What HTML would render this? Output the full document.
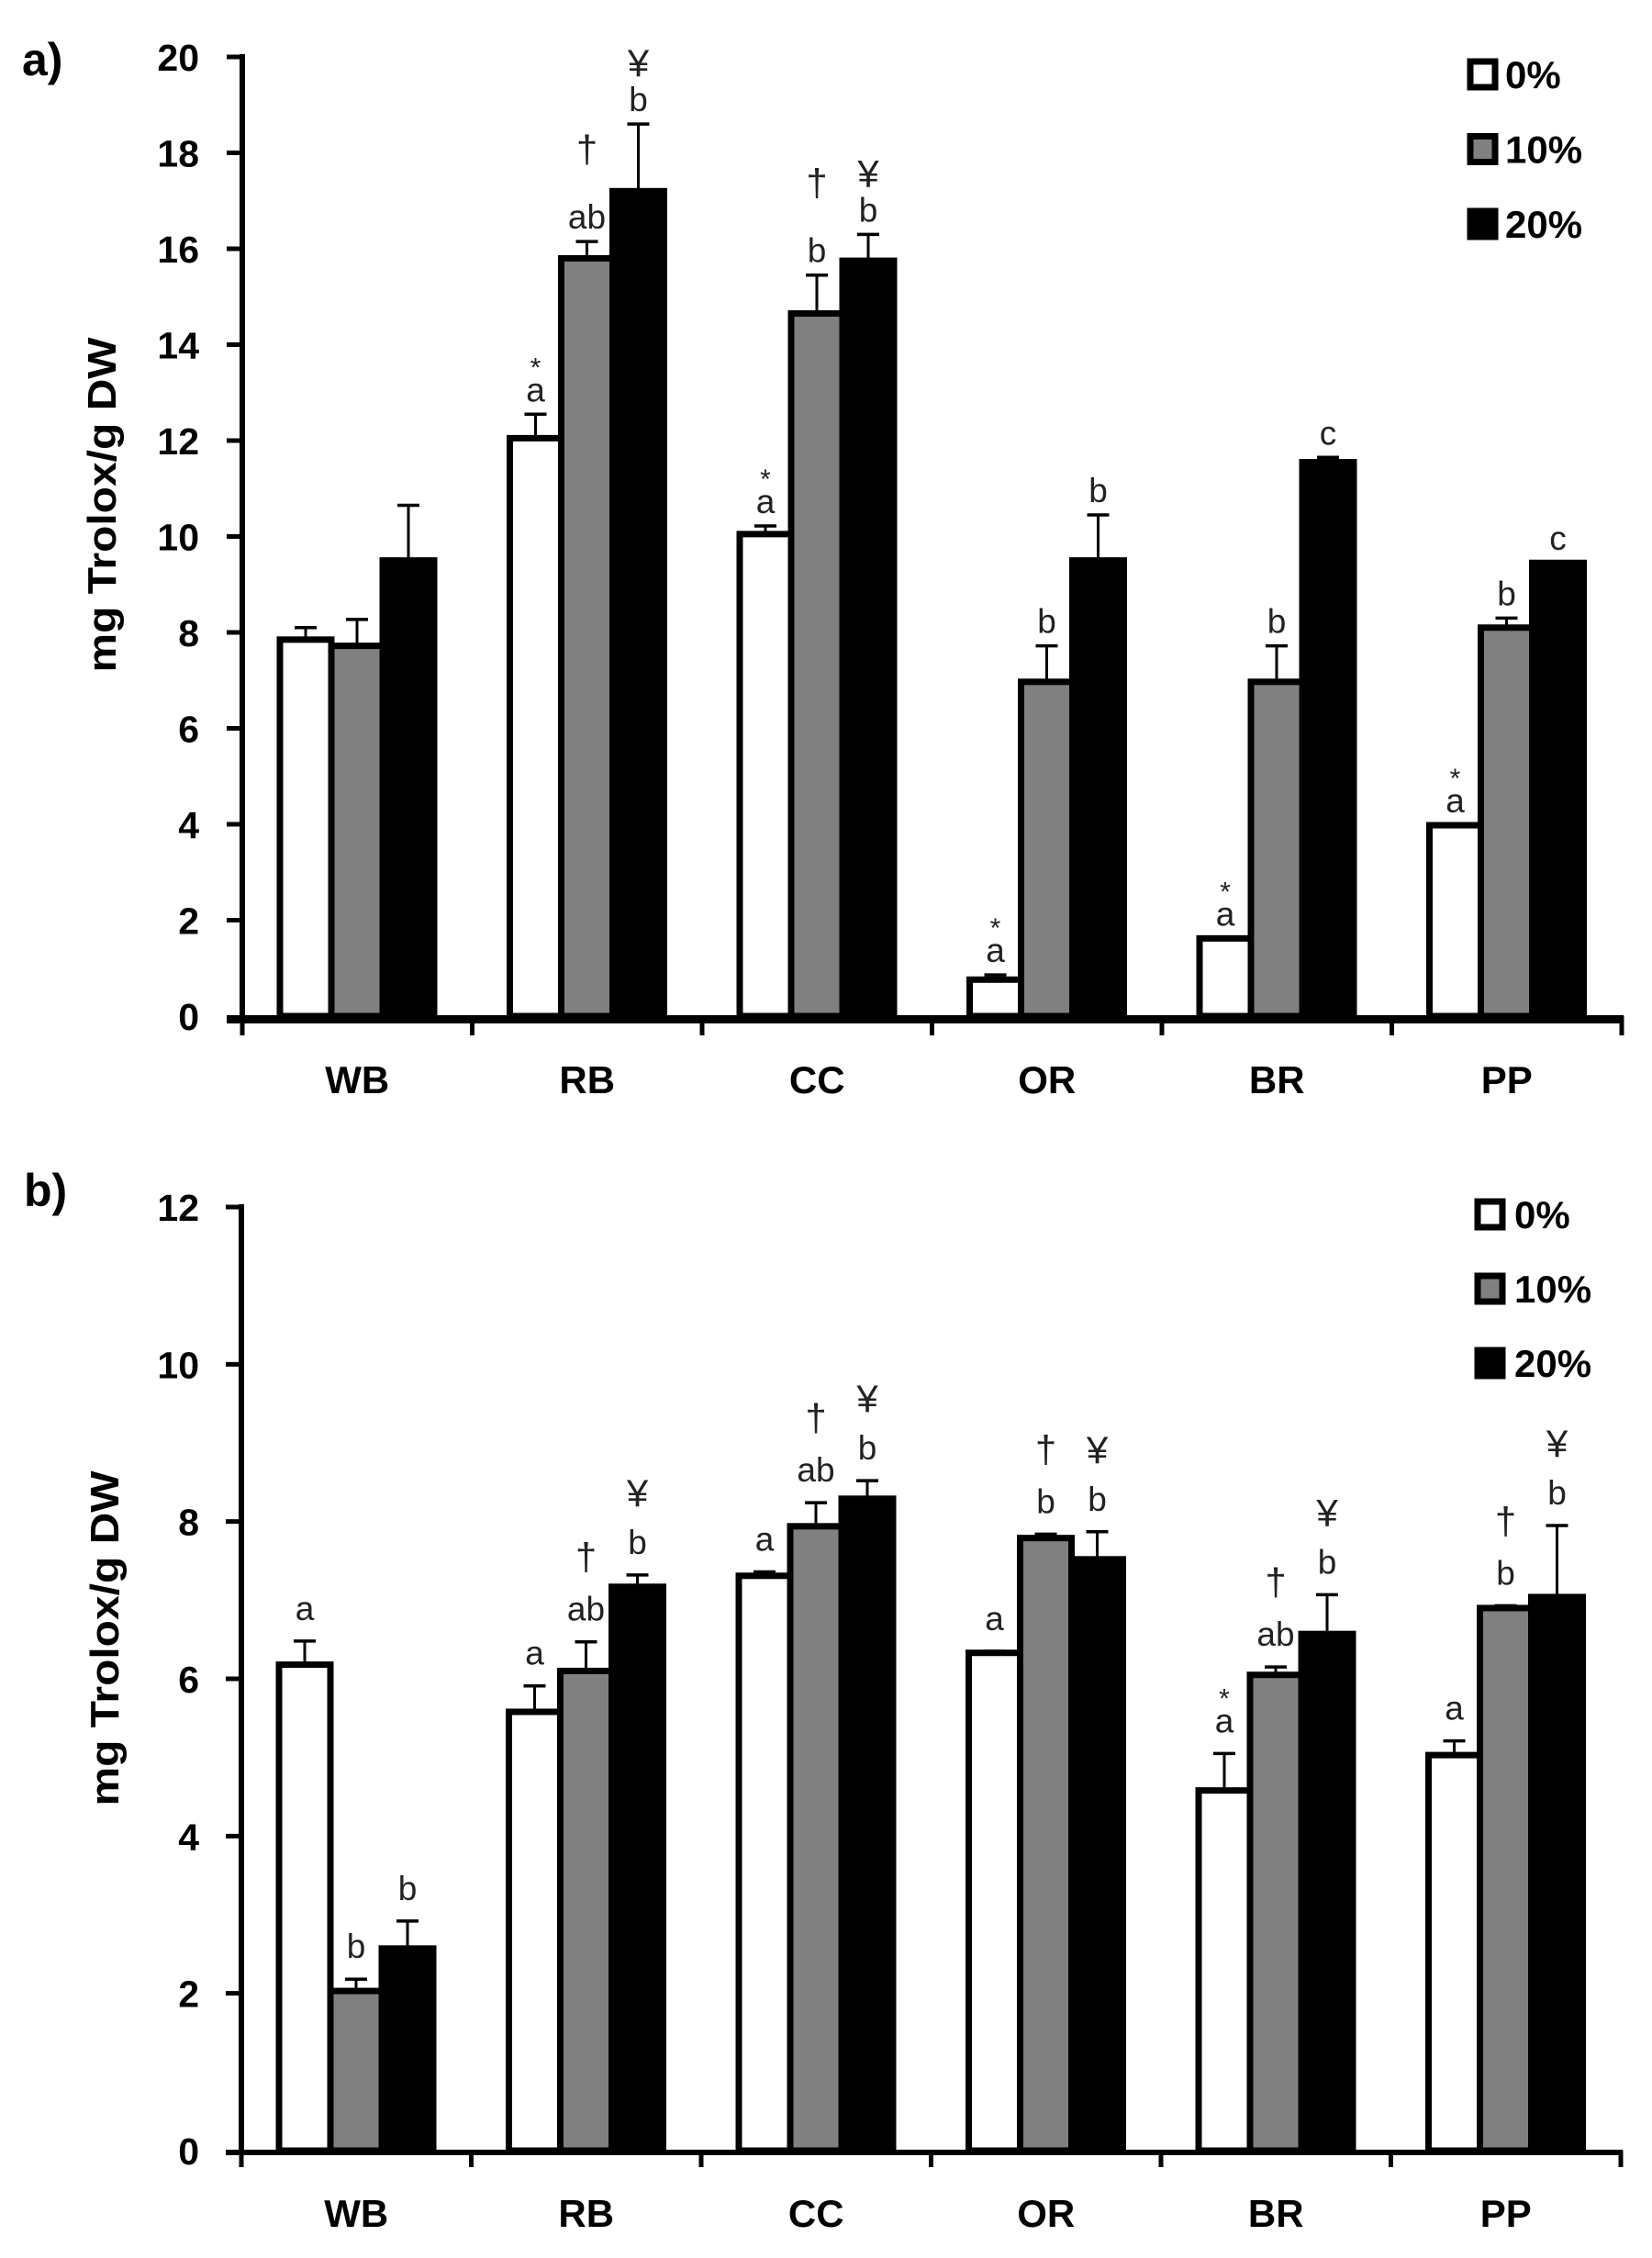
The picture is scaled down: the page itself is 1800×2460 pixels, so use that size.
<!DOCTYPE html>
<html lang="en">
<head>
<meta charset="utf-8">
<title>Trolox antioxidant capacity bar charts</title>
<style>
html,body{margin:0;padding:0;background:#fff;}
svg{display:block;}
text{fill:#000;}
.bold{font-family:"Liberation Sans",sans-serif;font-weight:bold;}
.note{font-family:"Liberation Sans",sans-serif;fill:#222;}
</style>
</head>
<body>
<svg id="figure" xmlns="http://www.w3.org/2000/svg" width="1800" height="2460" viewBox="0 0 1800 2460"></svg>
<script>
const categories = ['WB','RB','CC','OR','BR','PP'];
const seriesNames = ['0%','10%','20%'];
const seriesFills = ['#ffffff','#808080','#000000'];

const ticksA = [0,2,4,6,8,10,12,14,16,18,20];
const valuesA0 = [7.85,12.05,10.05,0.76,1.62,3.98];
const valuesA10 = [7.72,15.8,14.65,6.97,6.97,8.1];
const valuesA20 = [9.5,17.2,15.75,9.5,11.55,9.45];
const errorsA0 = [0.25,0.5,0.17,0.1,0,0];
const errorsA10 = [0.55,0.35,0.8,0.75,0.75,0.2];
const errorsA20 = [1.15,1.4,0.55,0.95,0.1,0];
const lettersA0 = ['','a','a','a','a','a'];
const lettersA10 = ['','ab','b','b','b','b'];
const lettersA20 = ['','b','b','b','c','c'];
const symbolsA0 = ['','*','*','*','*','*'];
const symbolsA10 = ['','†','†','','',''];
const symbolsA20 = ['','¥','¥','','',''];

const ticksB = [0,2,4,6,8,10,12];
const valuesB0 = [6.18,5.58,7.31,6.33,4.58,5.03];
const valuesB10 = [2.03,6.1,7.94,7.79,6.05,6.9];
const valuesB20 = [2.57,7.17,8.29,7.52,6.57,7.04];
const errorsB0 = [0.3,0.33,0.05,0.02,0.47,0.18];
const errorsB10 = [0.15,0.37,0.3,0.05,0.1,0.03];
const errorsB20 = [0.35,0.15,0.23,0.35,0.5,0.91];
const lettersB0 = ['a','a','a','a','a','a'];
const lettersB10 = ['b','ab','ab','b','ab','b'];
const lettersB20 = ['b','b','b','b','b','b'];
const symbolsB0 = ['','','','','*',''];
const symbolsB10 = ['','†','†','†','†','†'];
const symbolsB20 = ['','¥','¥','¥','¥','¥'];

const NS = 'http://www.w3.org/2000/svg';
const figure = document.getElementById('figure');

function make(parent, tag, props, content) {
  const node = document.createElementNS(NS, tag);
  for (const key in props) node.setAttribute(key, props[key]);
  if (content !== undefined) node.textContent = content;
  parent.appendChild(node);
  return node;
}

function drawPanel(p) {
  const panel = make(figure, 'g', {});
  
  

  const yScale = v => p.y0 - (v / p.yMax) * (p.y0 - p.yTop);
  const groupWidth = 250.5;
  const groupX = i => p.x0 + i * groupWidth;
  const barWidth = 56;
  const barX = (i, s) => groupX(i) + 41 + s * barWidth;

  p.values.forEach((series, s) => {
    series.forEach((v, i) => {
      const x = barX(i, s);
      const err = p.errors[s][i];
      if (err > 0) {
        const cx = x + barWidth / 2;
        const errLine = make(panel, 'line', {x1: cx, x2: cx, y1: yScale(v), y2: yScale(v + err), stroke: '#000', 'stroke-width': 3});
        
        
        const errCap = make(panel, 'line', {x1: cx - 12, x2: cx + 12, y1: yScale(v + err), y2: yScale(v + err), stroke: '#000', 'stroke-width': 3.5});
        
        
      }
    });
  });

  p.values.forEach((series, s) => {
    series.forEach((v, i) => {
      const bar = make(panel, 'rect', {x: barX(i, s), y: yScale(v), width: barWidth, height: p.y0 - yScale(v), fill: seriesFills[s], stroke: '#000', 'stroke-width': 7});
      
      
    });
  });

  p.values.forEach((series, s) => {
    series.forEach((v, i) => {
      const cx = barX(i, s) + barWidth / 2;
      const topY = yScale(v + p.errors[s][i]) - 3;
      const letter = p.letters[s][i];
      const symbol = p.symbols[s][i];
      const letterBase = topY - p.letterGap;
      if (letter) {
        const letterNode = make(panel, 'text', {x: cx, y: letterBase, 'text-anchor': 'middle', 'font-size': 37, class: 'note'}, letter);
        
        
      }
      if (symbol) {
        const isStar = symbol === '*';
        const gap = isStar ? 27 : (symbol === '†' ? p.daggerGap : p.yenGap);
        const symbolNode = make(panel, 'text', {x: cx, y: letterBase - gap, 'text-anchor': 'middle', 'font-size': isStar ? 30 : 42, class: 'note'}, symbol);
        
        
      }
    });
  });

  const yAxis = make(panel, 'line', {x1: p.x0, x2: p.x0, y1: p.yTop - 3, y2: p.y0 + p.axisW / 2, stroke: '#000', 'stroke-width': 6});
  
  

  const xEnd = groupX(categories.length);
  const xAxis = make(panel, 'line', {x1: p.x0 - 17, x2: xEnd + 2, y1: p.y0 + p.axisW / 2 - 1, y2: p.y0 + p.axisW / 2 - 1, stroke: '#000', 'stroke-width': p.axisW});
  
  

  p.ticks.forEach(t => {
    const y = yScale(t);
    if (t !== 0) {
      const tick = make(panel, 'line', {x1: p.x0 - 17, x2: p.x0, y1: y, y2: y, stroke: '#000', 'stroke-width': 5});
      
      
    }
    const tickLabel = make(panel, 'text', {x: 217, y: y + 15, 'text-anchor': 'end', 'font-size': 41, class: 'bold'}, String(t));
    
    
  });

  for (let i = 0; i <= categories.length; i++) {
    const tick = make(panel, 'line', {x1: groupX(i), x2: groupX(i), y1: p.y0, y2: p.y0 + p.axisW + 12, stroke: '#000', 'stroke-width': 5});
    
    
  }

  categories.forEach((c, i) => {
    const catLabel = make(panel, 'text', {x: groupX(i) + groupWidth / 2, y: p.xLabelY, 'text-anchor': 'middle', 'font-size': 42, class: 'bold'}, c);
    
    
  });

  const title = make(panel, 'text', {
    x: 0, y: 0,
    transform: 'translate(' + p.titleX + ' ' + p.titleY + ') rotate(-90)',
    'text-anchor': 'middle', 'font-size': 44, class: 'bold',
    textLength: p.titleLen, lengthAdjust: 'spacingAndGlyphs'
  }, 'mg Trolox/g DW');
  
  

  const panelLabel = make(panel, 'text', {x: p.labelX, y: p.labelY, 'font-size': 50, class: 'bold'}, p.id + ')');
  
  

  seriesNames.forEach((name, s) => {
    const cy = p.legendY + s * p.legendStep;
    const swatch = make(panel, 'rect', {x: p.legendX + 3, y: cy - 14, width: 27, height: 28, fill: seriesFills[s], stroke: '#000', 'stroke-width': 7});
    
    
    const entry = make(panel, 'text', {x: p.legendX + p.legendTextDx, y: cy + 15, 'font-size': 42, class: 'bold'}, name);
    
    
  });
}

drawPanel({
  id: 'a', x0: 264, y0: 1107, yTop: 62, yMax: 20, axisW: 9, ticks: ticksA,
  values: [valuesA0, valuesA10, valuesA20],
  errors: [errorsA0, errorsA10, errorsA20],
  letters: [lettersA0, lettersA10, lettersA20],
  symbols: [symbolsA0, symbolsA10, symbolsA20],
  letterGap: 11, yenGap: 38, daggerGap: 72,
  xLabelY: 1191, titleX: 126, titleY: 550, titleLen: 365,
  labelX: 24, labelY: 82, legendX: 1599, legendY: 81, legendStep: 81.5, legendTextDx: 41
});

drawPanel({
  id: 'b', x0: 263, y0: 2343, yTop: 1315, yMax: 12, axisW: 6, ticks: ticksB,
  values: [valuesB0, valuesB10, valuesB20],
  errors: [errorsB0, errorsB10, errorsB20],
  letters: [lettersB0, lettersB10, lettersB20],
  symbols: [symbolsB0, symbolsB10, symbolsB20],
  letterGap: 20, yenGap: 52, daggerGap: 55,
  xLabelY: 2426, titleX: 129, titleY: 1785, titleLen: 365,
  labelX: 26, labelY: 1314, legendX: 1607, legendY: 1323, legendStep: 81, legendTextDx: 43
});
</script>
</body>
</html>
